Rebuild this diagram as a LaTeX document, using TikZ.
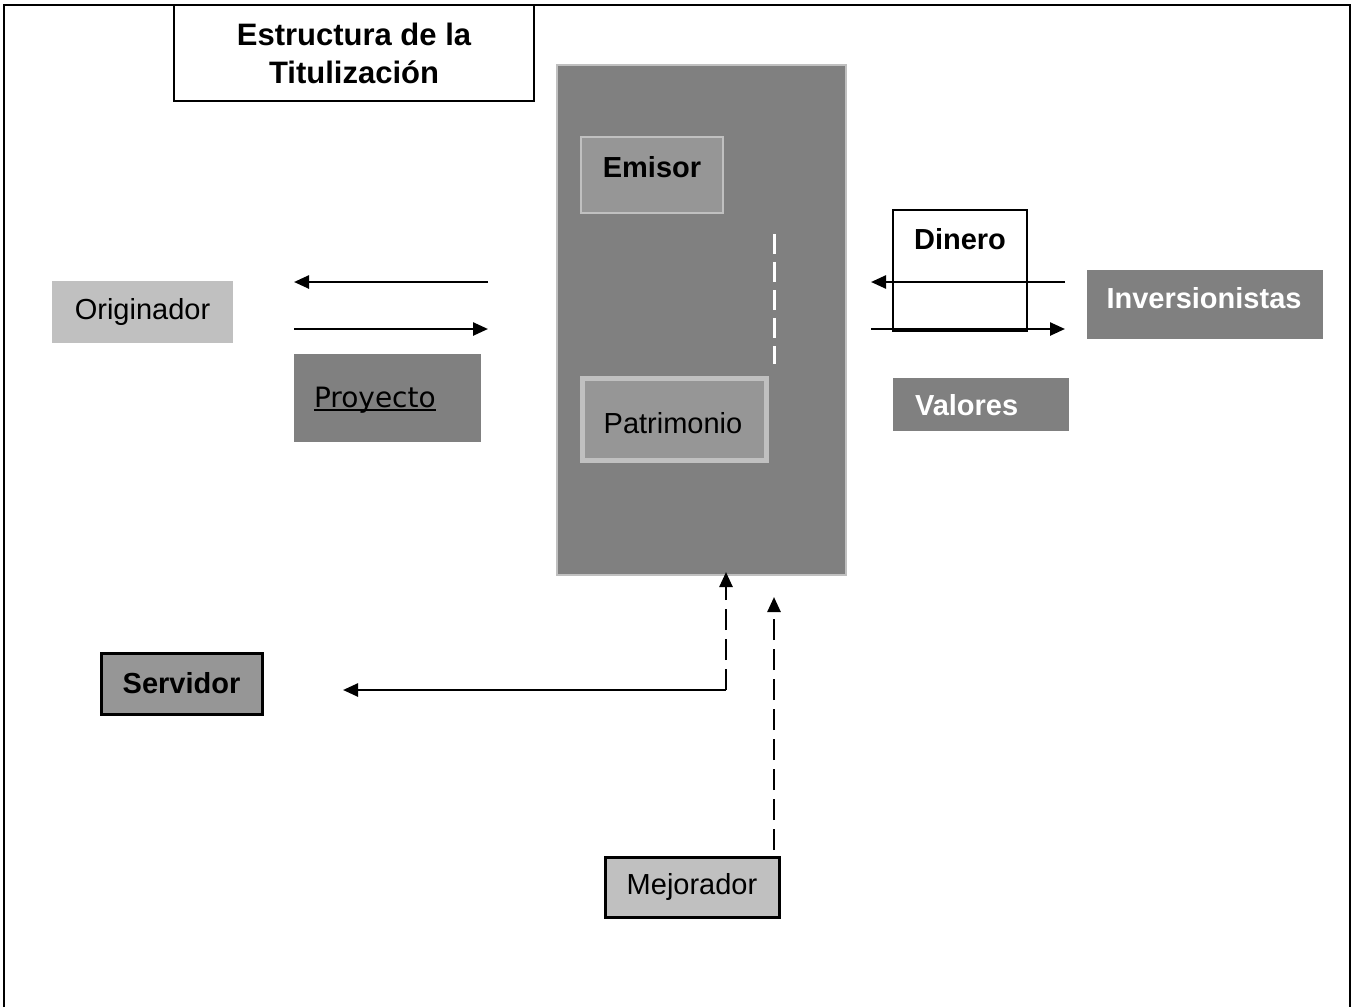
\documentclass[tikz,border=0pt]{standalone}
\usepackage{fontspec}
\setmainfont{Liberation Sans}
\newfontfamily\proyfont{DejaVu Sans}
\usetikzlibrary{arrows.meta}

\definecolor{grisosc}{RGB}{128,128,128}
\definecolor{grismed}{RGB}{150,150,150}
\definecolor{grisclaro}{RGB}{192,192,192}

\newcommand\subrayado[1]{\setbox0\hbox{#1}\rlap{\rule[-4pt]{\wd0}{2.5pt}}\box0}

\tikzset{
    every picture/.style={line width=2pt},
    caja/.style={rectangle, inner sep=0pt, anchor=center, font=\fontsize{29}{35}\selectfont},
    flecha/.style={line width=2.5pt, -{Triangle[length=15pt,width=13pt]}},
    trazos/.style={dash pattern=on 21pt off 9pt},
}

\begin{document}
\begin{tikzpicture}[x=1pt,y=1pt,yscale=-1,xscale=1]
        \useasboundingbox (0,0) rectangle (1357,1007);

        % marco exterior
        \draw (4,1007) -- (4,5) -- (1350,5) -- (1350,1007);

        % titulo
        \node [caja, draw=black, minimum width=360pt, minimum height=96pt, align=center, font=\fontsize{31}{38}\selectfont\bfseries] (titulo) at (354,53) {Estructura de la\\Titulización};

        % bloque central
        \node [caja, draw=grisclaro, fill=grisosc, minimum width=289pt, minimum height=510pt] (central) at (701.5,320) {};
        \node [caja, draw=grisclaro, line width=2.5pt, fill=grismed, minimum width=142pt, minimum height=76pt] (emisor) at (652,175) {};
        \node [caja, font=\fontsize{29}{35}\selectfont\bfseries] (emisortxt) at (652,167) {Emisor};
        \node [caja, draw=grisclaro, line width=5pt, fill=grismed, minimum width=184pt, minimum height=82pt] (patrimonio) at (674,419) {};
        \node [caja] (patrimoniotxt) at (673,423) {Patrimonio};
        \coordinate (sepsup) at (774,234);
        \coordinate (sepinf) at (774,364);
        \draw [white, line width=3pt, dash pattern=on 20pt off 8pt] (sepsup) -- (sepinf);

        % lado izquierdo
        \node [caja, fill=grisclaro, minimum width=181pt, minimum height=62pt] (originador) at (142.5,312) {Originador};
        \node [caja, fill=grisosc, minimum width=187pt, minimum height=88pt] (proyecto) at (387.5,398) {};
        \node [caja, anchor=west, font=\fontsize{28}{34}\proyfont] (proyectotxt) at (313,400) {\subrayado{Proyecto}};
        \coordinate (origA) at (294,282);
        \coordinate (origB) at (488,282);
        \coordinate (origC) at (294,329);
        \coordinate (origD) at (488,329);
        \draw [flecha] (origB) -- (origA);
        \draw [flecha] (origC) -- (origD);

        % lado derecho
        \node [caja, draw=black, fill=white, minimum width=134pt, minimum height=121pt] (dinero) at (960,270.5) {};
        \node [caja, font=\fontsize{29}{35}\selectfont\bfseries] (dinerotxt) at (960,239) {Dinero};
        \node [caja, fill=grisosc, minimum width=236pt, minimum height=69pt] (inversionistas) at (1205,304.5) {};
        \node [caja, text=white, font=\fontsize{29}{35}\selectfont\bfseries] (inversionistastxt) at (1204,298) {Inversionistas};
        \node [caja, fill=grisosc, minimum width=176pt, minimum height=53pt] (valores) at (981,404.5) {};
        \node [caja, anchor=west, text=white, font=\fontsize{29}{35}\selectfont\bfseries] (valorestxt) at (914,405) {Valores};
        \coordinate (invA) at (871,282);
        \coordinate (invB) at (1065,282);
        \coordinate (invC) at (871,329);
        \coordinate (invD) at (1065,329);
        \draw [flecha] (invB) -- (invA);
        \draw [flecha] (invC) -- (invD);

        % servidor y mejorador
        \node [caja, draw=black, line width=3pt, fill=grismed, minimum width=161pt, minimum height=61pt, font=\fontsize{29}{35}\selectfont\bfseries] (servidor) at (181.5,683.5) {Servidor};
        \node [caja, draw=black, line width=3pt, fill=grisclaro, minimum width=174pt, minimum height=60pt] (mejorador) at (692,887) {Mejorador};
        \coordinate (srvcodo) at (726,690);
        \coordinate (srvfin) at (343,690);
        \coordinate (srvtope) at (726,572);
        \coordinate (mejinicio) at (774,850);
        \coordinate (mejtope) at (774,597);
        \draw [flecha] (srvcodo) -- (srvfin);
        \draw [flecha, trazos] (srvcodo) -- (srvtope);
        \draw [flecha, trazos] (mejinicio) -- (mejtope);

\end{tikzpicture}
\end{document}
